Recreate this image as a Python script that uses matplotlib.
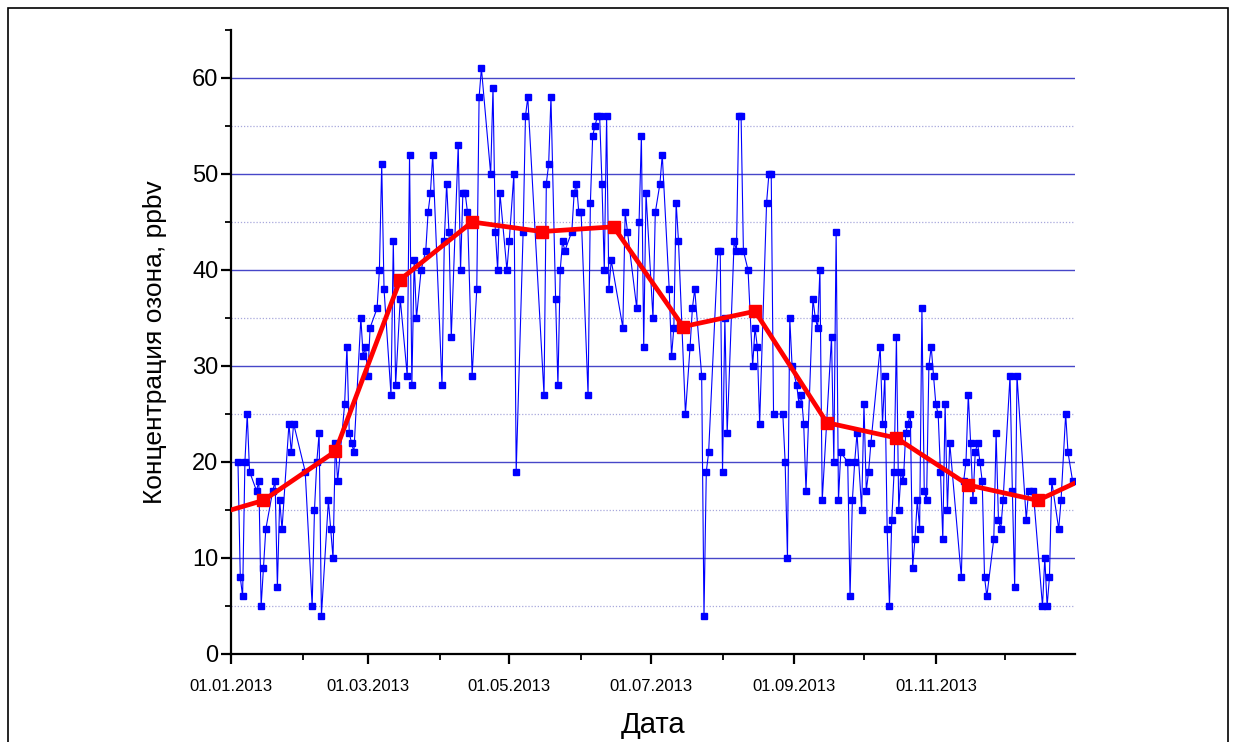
import numpy as np
import matplotlib
matplotlib.use("Agg")
import matplotlib.pyplot as plt
import matplotlib.dates as mdates
from matplotlib.patches import Rectangle
from matplotlib.ticker import MultipleLocator

plt.rcParams['font.family'] = ['Liberation Sans', 'DejaVu Sans']

# daily ozone, day offset from 01.01.2013 -> ppbv
day_offset = [
    3, 4, 5, 6, 7, 8, 11, 12, 13, 14, 15, 18, 19, 20, 21, 22, 25, 26, 27,
    32, 35, 36, 37, 38, 39, 42, 43, 44, 45, 46, 49, 50, 51, 52, 53, 56, 57, 58,
    59, 60, 63, 64, 65, 66, 69, 70, 71, 73, 76, 77, 78, 79, 80, 82, 84, 85, 86, 87,
    91, 92, 93, 94, 95, 98, 99, 100, 101, 102, 104, 106, 107, 108, 112, 113, 114, 115, 116, 119,
    120, 122, 123, 126, 127, 128, 135, 136, 137, 138, 140, 141, 142, 143, 144, 147, 148, 149, 150,
    151, 154, 155, 156, 157, 158, 159, 160, 161, 162, 163, 164, 169, 170, 171, 175, 176, 177, 178, 179,
    182, 183, 185, 186, 189, 190, 191, 192, 193, 196, 198, 199, 200, 203, 204, 205, 206, 210, 211,
    212, 213, 214, 217, 218, 219, 220, 221, 223, 225, 226, 227, 228, 231, 232, 233, 234, 238, 239, 240, 241, 242,
    244, 245, 246, 247, 248, 251, 252, 253, 254, 255, 259, 260, 261, 262, 263, 266, 267, 268, 269, 270, 272,
    273, 274, 275, 276, 280, 281, 282, 283, 284, 285, 286, 287, 288, 289, 290, 291, 292, 293, 294, 295, 296,
    297, 298, 299, 300, 301, 302, 303,
    304, 305, 306, 307, 308, 309, 310, 315, 316, 317, 318, 319, 320, 321, 322, 323, 324, 325, 326,
    329, 330, 331, 332, 333,
    336, 337, 338, 339, 343, 344, 346, 350, 351, 352, 353, 354, 357, 358, 360, 361, 363,
]
ozone = [
    20, 8, 6, 20, 25, 19, 17, 18, 5, 9, 13, 17, 18, 7, 16, 13, 24, 21, 24,
    19, 5, 15, 20, 23, 4, 16, 13, 10, 22, 18, 26, 32, 23, 22, 21, 35, 31, 32,
    29, 34, 36, 40, 51, 38, 27, 43, 28, 37, 29, 52, 28, 41, 35, 40, 42, 46, 48, 52,
    28, 43, 49, 44, 33, 53, 40, 48, 48, 46, 29, 38, 58, 61, 50, 59, 44, 40, 48, 40,
    43, 50, 19, 44, 56, 58, 27, 49, 51, 58, 37, 28, 40, 43, 42, 44, 48, 49, 46,
    46, 27, 47, 54, 55, 56, 56, 49, 40, 56, 38, 41, 34, 46, 44, 36, 45, 54, 32, 48,
    35, 46, 49, 52, 38, 31, 34, 47, 43, 25, 32, 36, 38, 29, 4, 19, 21, 42, 42,
    19, 35, 23, 43, 42, 56, 56, 42, 40, 30, 34, 32, 24, 47, 50, 50, 25, 25, 20, 10, 35, 30,
    28, 26, 27, 24, 17, 37, 35, 34, 40, 16, 33, 20, 44, 16, 21, 20, 6, 16, 20, 23, 15,
    26, 17, 19, 22, 32, 24, 29, 13, 5, 14, 19, 33, 15, 19, 18, 23, 24, 25, 9, 12, 16,
    13, 36, 17, 16, 30, 32, 29,
    26, 25, 19, 12, 26, 15, 22, 8, 18, 20, 27, 22, 16, 21, 22, 20, 18, 8, 6,
    12, 23, 14, 13, 16,
    29, 17, 7, 29, 14, 17, 17, 5, 10, 5, 8, 18, 13, 16, 25, 21, 18,
]

# monthly means, plotted on the 15th (Dec 2012 ... Jan 2014)
month_dates = ['2012-12-15', '2013-01-15', '2013-02-15', '2013-03-15', '2013-04-15',
               '2013-05-15', '2013-06-15', '2013-07-15', '2013-08-15', '2013-09-15',
               '2013-10-15', '2013-11-15', '2013-12-15', '2014-01-15']
month_mean = [13.8, 16.0, 21.1, 39.0, 45.0, 44.0, 44.5, 34.1, 35.7, 24.1, 22.5, 17.6, 16.0, 19.5]

start = np.datetime64('2013-01-01')
daily_dates = start + np.array(day_offset).astype('timedelta64[D]')
mean_dates = np.array(month_dates, dtype='datetime64[D]')

fig = plt.figure(figsize=(12.36, 7.42), dpi=100)
ax = fig.add_axes([0.1869, 0.1186, 0.6828, 0.841])

blue = '#0000ff'
ax.plot(daily_dates, ozone, '-', color=blue, lw=0.8, zorder=3)
ax.plot(daily_dates, ozone, 's', color=blue, ms=5, mec=blue, zorder=4)
ax.plot(mean_dates, month_mean, '-s', color='#ff0000', lw=3.4, ms=8.5, zorder=5)

ax.set_xlim(np.datetime64('2013-01-01'), np.datetime64('2013-12-31'))
ax.set_ylim(0, 65)

ax.yaxis.set_major_locator(MultipleLocator(10))
ax.yaxis.set_minor_locator(MultipleLocator(5))
ax.xaxis.set_major_locator(mdates.MonthLocator(bymonth=[1, 3, 5, 7, 9, 11]))
ax.xaxis.set_minor_locator(mdates.MonthLocator(bymonth=[2, 4, 6, 8, 10, 12]))
ax.xaxis.set_major_formatter(mdates.DateFormatter('%d.%m.%Y'))

# solid lines at the labelled levels, dotted ones halfway between
ax.grid(axis='y', which='major', color='#4646c8', lw=1.0, zorder=1)
ax.hlines(np.arange(5, 60, 10), 0, 1, transform=ax.get_yaxis_transform(),
          colors='#a8a8dc', lw=0.9, linestyles=(0, (1, 1.5)), zorder=1)
ax.set_axisbelow(True)

for s in ('top', 'right'):
    ax.spines[s].set_visible(False)
for s in ('left', 'bottom'):
    ax.spines[s].set_linewidth(1.6)
    ax.spines[s].set_color('black')

ax.tick_params(axis='y', which='major', direction='out', length=7, width=1.6, labelsize=17, pad=2)
ax.tick_params(axis='y', which='minor', direction='out', length=4, width=1.3)
ax.tick_params(axis='x', which='major', direction='out', length=7, width=1.6, labelsize=12, pad=11)
ax.tick_params(axis='x', which='minor', direction='out', length=4, width=1.3)

ax.set_ylabel('Концентрация озона, ppbv', fontsize=19, labelpad=18)
ax.set_xlabel('Дата', fontsize=21, labelpad=12)

# frame around the whole figure
fig.patches.append(Rectangle((8 / 1236, -0.02), 1220 / 1236, 1.02 - 8 / 742,
                             transform=fig.transFigure, fill=False,
                             edgecolor='black', lw=1.2))

fig.savefig('out.png', dpi=100)
